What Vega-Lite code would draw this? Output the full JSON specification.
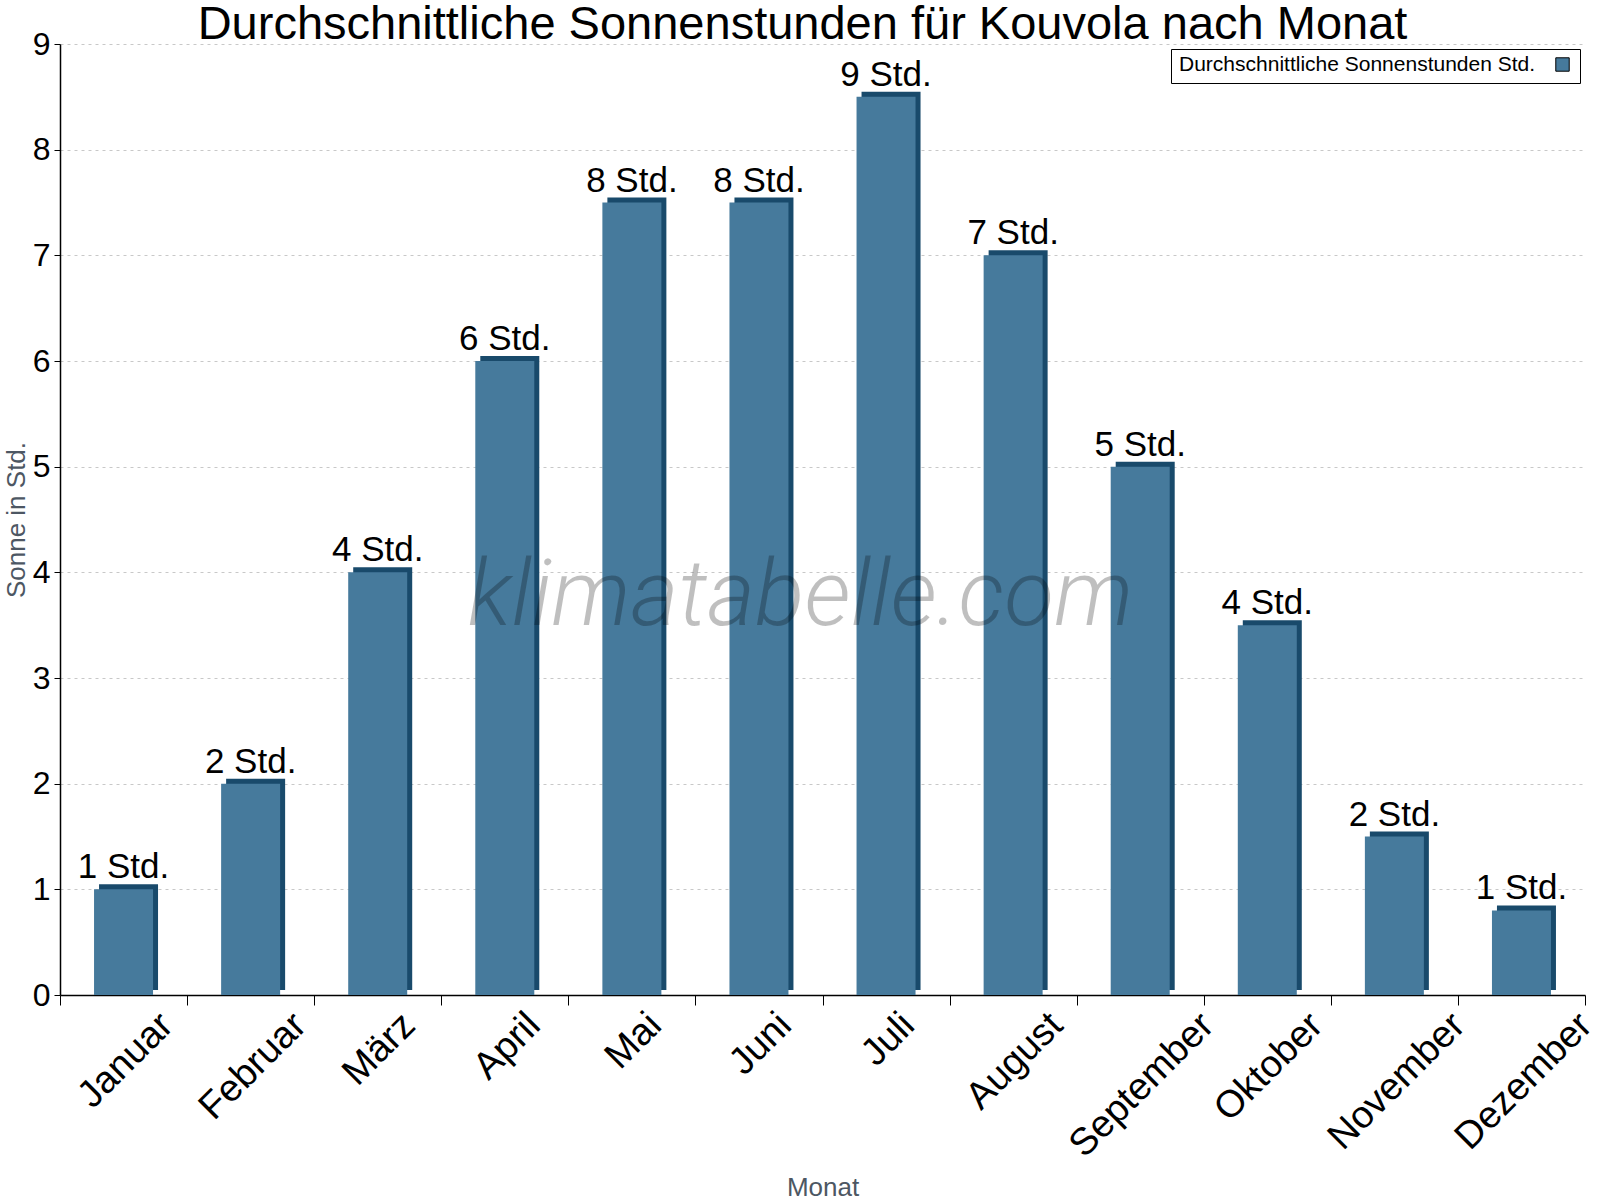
{
  "$schema": "https://vega.github.io/schema/vega-lite/v6.json",
  "width": 1525,
  "height": 951,
  "autosize": {"type": "none"},
  "padding": {"left": 60, "top": 44, "right": 15, "bottom": 205},
  "background": "white",
  "config": {
    "font": "Liberation Sans",
    "view": {"stroke": null},
    "axis": {"domainColor": "black", "tickColor": "black", "labelColor": "black", "labelFont": "Liberation Sans", "titleFont": "Liberation Sans", "titleFontWeight": "normal", "titleColor": "#4d5763"}
  },
  "title": {"text": "Durchschnittliche Sonnenstunden für Kouvola nach Monat", "fontSize": 47, "fontWeight": "normal", "color": "black", "anchor": "middle", "offset": -21, "dx": -20, "font": "Liberation Sans"},
  "data": {"values": [
    {"Monat": "Januar", "Sonne": 1.0, "Label": "1 Std."},
    {"Monat": "Februar", "Sonne": 2.0, "Label": "2 Std."},
    {"Monat": "März", "Sonne": 4.0, "Label": "4 Std."},
    {"Monat": "April", "Sonne": 6.0, "Label": "6 Std."},
    {"Monat": "Mai", "Sonne": 7.5, "Label": "8 Std."},
    {"Monat": "Juni", "Sonne": 7.5, "Label": "8 Std."},
    {"Monat": "Juli", "Sonne": 8.5, "Label": "9 Std."},
    {"Monat": "August", "Sonne": 7.0, "Label": "7 Std."},
    {"Monat": "September", "Sonne": 5.0, "Label": "5 Std."},
    {"Monat": "Oktober", "Sonne": 3.5, "Label": "4 Std."},
    {"Monat": "November", "Sonne": 1.5, "Label": "2 Std."},
    {"Monat": "Dezember", "Sonne": 0.8, "Label": "1 Std."}
  ]},
  "encoding": {
    "x": {"field": "Monat", "type": "nominal", "sort": null,
      "scale": {"paddingInner": 0, "paddingOuter": 0},
      "axis": {"title": "Monat", "titleFontSize": 26, "titleY": 200, "titleBaseline": "alphabetic", "labelAngle": -45, "labelAlign": "right", "labelBaseline": "alphabetic", "labelFontSize": 38, "labelPadding": 22, "labelLimit": 400,
        "labelOffset": {"condition": [
          {"test": "datum.label == 'Januar'", "value": 51},
          {"test": "datum.label == 'Februar'", "value": 57},
          {"test": "datum.label == 'März'", "value": 39},
          {"test": "datum.label == 'April'", "value": 37},
          {"test": "datum.label == 'Mai'", "value": 31},
          {"test": "datum.label == 'Juni'", "value": 34},
          {"test": "datum.label == 'Juli'", "value": 30},
          {"test": "datum.label == 'August'", "value": 51},
          {"test": "datum.label == 'September'", "value": 75},
          {"test": "datum.label == 'Oktober'", "value": 57},
          {"test": "datum.label == 'November'", "value": 72}
        ], "value": 72},
        "tickBand": "extent", "tickSize": 10, "grid": false, "domainWidth": 1.5}},
    "y": {"field": "Sonne", "type": "quantitative",
      "scale": {"domain": [0, 9], "nice": false},
      "axis": {"title": "Sonne in Std.", "titleFontSize": 26, "titleX": -36, "titleBaseline": "alphabetic", "labelFontSize": 32, "tickCount": 9, "tickSize": 6, "labelPadding": 4, "grid": true, "gridColor": "#c8c8c8", "gridDash": [3, 4], "gridWidth": 1, "domainWidth": 1.5}}
  },
  "layer": [
    {"mark": {"type": "bar", "size": 59, "xOffset": 5, "yOffset": -5, "color": "#194a6b"}, "encoding": {}},
    {"mark": {"type": "bar", "size": 59},
     "encoding": {"color": {"datum": "Durchschnittliche Sonnenstunden Std.", "type": "nominal",
        "scale": {"range": ["#467a9c"]},
        "legend": {"title": "Durchschnittliche Sonnenstunden Std.", "titleOrient": "left", "titleFontSize": 21, "titleFontWeight": "normal", "titleColor": "black", "titleFont": "Liberation Sans", "titleLimit": 800, "titlePadding": 19, "labelExpr": "''", "labelFontSize": 1, "labelOffset": 0, "symbolType": "square", "symbolSize": 180, "symbolStrokeColor": "black", "symbolStrokeWidth": 1, "orient": "top-right", "offset": 5, "strokeColor": "black", "fillColor": "white", "padding": 8}}}},
    {"mark": {"type": "text", "fontSize": 35, "baseline": "alphabetic", "dy": -11, "color": "black"},
     "encoding": {"text": {"field": "Label"}}},
    {"transform": [{"filter": "datum.Monat == 'Juli'"}],
     "mark": {"type": "text", "font": "'Roboto Light', Lato", "fontSize": 92, "fontStyle": "italic", "fontWeight": 300, "fill": "#000000", "fillOpacity": 0.25, "align": "center", "baseline": "alphabetic", "dx": -22},
     "encoding": {"text": {"datum": "klimatabelle.com"}, "x": {"datum": "Juli", "bandPosition": 0}, "y": {"datum": 3.5}}}
  ]
}
